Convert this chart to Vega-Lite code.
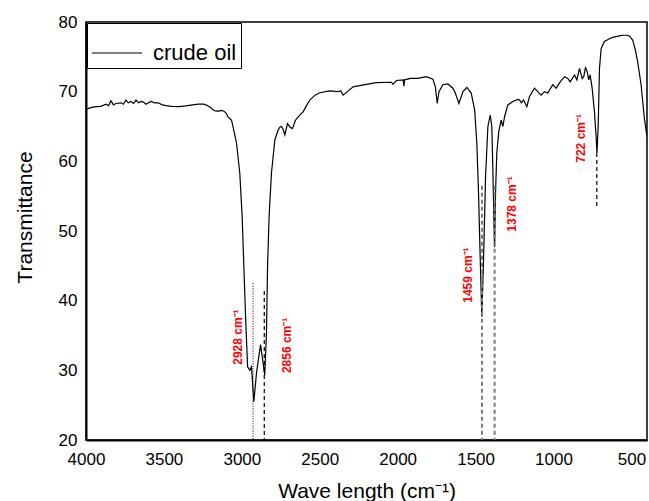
{
  "$schema": "https://vega.github.io/schema/vega-lite/v6.json",
  "width": 561,
  "height": 418,
  "autosize": "none",
  "padding": {"left": 86, "top": 22, "right": 2, "bottom": 61},
  "background": "white",
  "datasets": {
    "spectrum": [
      {"wn": 4000, "T": 67.5}, {"wn": 3968, "T": 67.7}, {"wn": 3936, "T": 67.85}, {"wn": 3904, "T": 67.9},
      {"wn": 3872, "T": 68.2}, {"wn": 3855, "T": 68.0}, {"wn": 3840, "T": 68.7}, {"wn": 3824, "T": 68.1},
      {"wn": 3808, "T": 68.3}, {"wn": 3776, "T": 68.4}, {"wn": 3760, "T": 68.2}, {"wn": 3744, "T": 68.8},
      {"wn": 3728, "T": 68.4}, {"wn": 3712, "T": 68.6}, {"wn": 3695, "T": 68.3}, {"wn": 3679, "T": 68.8},
      {"wn": 3663, "T": 68.4}, {"wn": 3647, "T": 68.6}, {"wn": 3631, "T": 68.5}, {"wn": 3615, "T": 68.2},
      {"wn": 3599, "T": 68.4}, {"wn": 3583, "T": 68.6}, {"wn": 3560, "T": 68.4}, {"wn": 3538, "T": 68.4},
      {"wn": 3510, "T": 68.1}, {"wn": 3487, "T": 68.0}, {"wn": 3450, "T": 67.9}, {"wn": 3404, "T": 67.85},
      {"wn": 3360, "T": 67.95}, {"wn": 3314, "T": 68.1}, {"wn": 3280, "T": 68.2}, {"wn": 3244, "T": 68.2},
      {"wn": 3220, "T": 68.0}, {"wn": 3199, "T": 67.7}, {"wn": 3179, "T": 67.3}, {"wn": 3160, "T": 67.2},
      {"wn": 3147, "T": 67.2}, {"wn": 3130, "T": 67.3}, {"wn": 3115, "T": 67.2}, {"wn": 3100, "T": 66.9},
      {"wn": 3090, "T": 66.4}, {"wn": 3066, "T": 65.9}, {"wn": 3050, "T": 64.3}, {"wn": 3034, "T": 62.6},
      {"wn": 3013, "T": 58.3}, {"wn": 2998, "T": 52.1}, {"wn": 2987, "T": 44.9}, {"wn": 2976, "T": 37.7},
      {"wn": 2963, "T": 30.5}, {"wn": 2949, "T": 30.0}, {"wn": 2938, "T": 30.5}, {"wn": 2923, "T": 25.5},
      {"wn": 2906, "T": 29.6}, {"wn": 2880, "T": 33.7}, {"wn": 2863, "T": 31.0}, {"wn": 2853, "T": 29.3},
      {"wn": 2842, "T": 35.3}, {"wn": 2835, "T": 44.9}, {"wn": 2825, "T": 52.1}, {"wn": 2810, "T": 58.3},
      {"wn": 2788, "T": 63.1}, {"wn": 2767, "T": 64.5}, {"wn": 2756, "T": 64.9}, {"wn": 2746, "T": 65.0},
      {"wn": 2735, "T": 64.6}, {"wn": 2724, "T": 63.8}, {"wn": 2707, "T": 65.4}, {"wn": 2690, "T": 64.9},
      {"wn": 2675, "T": 64.7}, {"wn": 2656, "T": 65.9}, {"wn": 2630, "T": 66.6}, {"wn": 2607, "T": 67.1},
      {"wn": 2585, "T": 68.0}, {"wn": 2564, "T": 68.8}, {"wn": 2530, "T": 69.5}, {"wn": 2500, "T": 69.85},
      {"wn": 2436, "T": 70.1}, {"wn": 2383, "T": 70.0}, {"wn": 2365, "T": 70.1}, {"wn": 2350, "T": 69.5},
      {"wn": 2329, "T": 69.9}, {"wn": 2286, "T": 70.7}, {"wn": 2201, "T": 71.05}, {"wn": 2137, "T": 71.3},
      {"wn": 2040, "T": 71.35}, {"wn": 2030, "T": 71.05}, {"wn": 2008, "T": 71.6}, {"wn": 1964, "T": 71.7},
      {"wn": 1960, "T": 70.8}, {"wn": 1956, "T": 71.7}, {"wn": 1917, "T": 71.9}, {"wn": 1870, "T": 71.9},
      {"wn": 1816, "T": 72.15}, {"wn": 1774, "T": 71.8}, {"wn": 1758, "T": 70.7}, {"wn": 1746, "T": 68.3},
      {"wn": 1735, "T": 70.0}, {"wn": 1710, "T": 71.0}, {"wn": 1678, "T": 71.1}, {"wn": 1646, "T": 70.5},
      {"wn": 1630, "T": 69.8}, {"wn": 1607, "T": 68.3}, {"wn": 1581, "T": 70.0}, {"wn": 1556, "T": 70.6},
      {"wn": 1528, "T": 69.8}, {"wn": 1506, "T": 67.4}, {"wn": 1492, "T": 62.6}, {"wn": 1481, "T": 55.4},
      {"wn": 1470, "T": 45.8}, {"wn": 1460, "T": 37.7}, {"wn": 1449, "T": 45.8}, {"wn": 1436, "T": 57.8},
      {"wn": 1421, "T": 65.0}, {"wn": 1406, "T": 66.65}, {"wn": 1396, "T": 65.0}, {"wn": 1389, "T": 58.8},
      {"wn": 1383, "T": 52.1}, {"wn": 1378, "T": 47.7}, {"wn": 1372, "T": 55.4}, {"wn": 1364, "T": 61.2},
      {"wn": 1351, "T": 64.3}, {"wn": 1336, "T": 65.9}, {"wn": 1325, "T": 65.0}, {"wn": 1314, "T": 66.4},
      {"wn": 1293, "T": 68.1}, {"wn": 1261, "T": 68.6}, {"wn": 1229, "T": 68.9}, {"wn": 1218, "T": 68.8},
      {"wn": 1207, "T": 68.4}, {"wn": 1192, "T": 68.8}, {"wn": 1171, "T": 67.85}, {"wn": 1154, "T": 69.3},
      {"wn": 1122, "T": 70.5}, {"wn": 1101, "T": 70.0}, {"wn": 1079, "T": 69.5}, {"wn": 1058, "T": 70.0},
      {"wn": 1037, "T": 69.8}, {"wn": 1005, "T": 71.0}, {"wn": 983, "T": 70.5}, {"wn": 957, "T": 71.4},
      {"wn": 929, "T": 72.15}, {"wn": 908, "T": 71.9}, {"wn": 893, "T": 71.4}, {"wn": 865, "T": 72.4},
      {"wn": 850, "T": 71.7}, {"wn": 833, "T": 73.35}, {"wn": 816, "T": 71.9}, {"wn": 806, "T": 72.15},
      {"wn": 795, "T": 73.45}, {"wn": 784, "T": 72.9}, {"wn": 774, "T": 71.7}, {"wn": 765, "T": 72.4},
      {"wn": 752, "T": 70.5}, {"wn": 737, "T": 67.1}, {"wn": 726, "T": 63.3}, {"wn": 721, "T": 61.2},
      {"wn": 713, "T": 65.2}, {"wn": 705, "T": 73.35}, {"wn": 694, "T": 76.2}, {"wn": 673, "T": 77.2},
      {"wn": 641, "T": 77.6}, {"wn": 620, "T": 77.8}, {"wn": 598, "T": 77.9}, {"wn": 577, "T": 78.0},
      {"wn": 556, "T": 78.1}, {"wn": 535, "T": 78.1}, {"wn": 513, "T": 78.0}, {"wn": 492, "T": 77.4},
      {"wn": 475, "T": 76.0}, {"wn": 460, "T": 74.3}, {"wn": 438, "T": 71.0}, {"wn": 417, "T": 66.2},
      {"wn": 400, "T": 63.5}
    ],
    "peaks": [
      {"peak": 2928, "top": 42.5, "bottom": 20, "labelX": 3026, "labelY": 30.8, "label": "2928 cm⁻¹"},
      {"peak": 2856, "top": 41.4, "bottom": 20, "labelX": 2712, "labelY": 29.6, "label": "2856 cm⁻¹"},
      {"peak": 1459, "top": 56.5, "bottom": 20, "labelX": 1551, "labelY": 39.7, "label": "1459 cm⁻¹"},
      {"peak": 1378, "top": 56.5, "bottom": 20, "labelX": 1269, "labelY": 49.9, "label": "1378 cm⁻¹"},
      {"peak": 722, "top": 61.2, "bottom": 53.4, "labelX": 821, "labelY": 59.8, "label": "722 cm⁻¹"}
    ]
  },
  "layer": [
    {
      "data": {"name": "spectrum"},
      "mark": {"type": "line", "strokeWidth": 1.2, "clip": true},
      "encoding": {
        "x": {
          "field": "wn", "type": "quantitative",
          "scale": {"domain": [400, 4000], "reverse": true, "nice": false, "zero": false},
          "title": "Wave length (cm⁻¹)",
          "axis": {"values": [4000, 3500, 3000, 2500, 2000, 1500, 1000, 500], "format": "d"}
        },
        "y": {
          "field": "T", "type": "quantitative",
          "scale": {"domain": [20, 80], "nice": false, "zero": false},
          "title": "Transmittance",
          "axis": {"values": [20, 30, 40, 50, 60, 70, 80], "format": "d"}
        },
        "color": {
          "datum": "crude oil",
          "type": "nominal",
          "scale": {"range": ["black"]},
          "legend": {
            "title": null,
            "orient": "top-left",
            "offset": 1,
            "symbolType": "stroke",
            "symbolSize": 2500,
            "symbolStrokeWidth": 1.2,
            "symbolStrokeColor": "black",
            "labelFontSize": 22,
            "labelFont": "Liberation Sans",
            "labelColor": "black",
            "labelOffset": 10,
            "padding": 4,
            "strokeColor": "black",
            "fillColor": "white"
          }
        }
      }
    },
    {
      "data": {"name": "peaks"},
      "transform": [{"filter": "datum.peak == 2928"}],
      "mark": {"type": "rule", "color": "black", "strokeWidth": 1, "strokeDash": [1, 1.5]},
      "encoding": {
        "x": {"field": "peak", "type": "quantitative", "title": "Wave length (cm⁻¹)"},
        "y": {"field": "top", "type": "quantitative", "title": "Transmittance"},
        "y2": {"field": "bottom"}
      }
    },
    {
      "data": {"name": "peaks"},
      "transform": [{"filter": "datum.peak == 2856 || datum.peak == 722"}],
      "mark": {"type": "rule", "color": "black", "strokeWidth": 1.2, "strokeDash": [4, 3]},
      "encoding": {
        "x": {"field": "peak", "type": "quantitative", "title": "Wave length (cm⁻¹)"},
        "y": {"field": "top", "type": "quantitative", "title": "Transmittance"},
        "y2": {"field": "bottom"}
      }
    },
    {
      "data": {"name": "peaks"},
      "transform": [{"filter": "datum.peak == 1459 || datum.peak == 1378"}],
      "mark": {"type": "rule", "color": "#7a7a7a", "strokeWidth": 2, "strokeDash": [4, 3]},
      "encoding": {
        "x": {"field": "peak", "type": "quantitative", "title": "Wave length (cm⁻¹)"},
        "y": {"field": "top", "type": "quantitative", "title": "Transmittance"},
        "y2": {"field": "bottom"}
      }
    },
    {
      "data": {"name": "peaks"},
      "mark": {"type": "text", "angle": 270, "align": "left", "baseline": "middle", "color": "#ff0000", "font": "Liberation Sans", "fontSize": 12, "fontWeight": "bold"},
      "encoding": {
        "x": {"field": "labelX", "type": "quantitative", "title": "Wave length (cm⁻¹)"},
        "y": {"field": "labelY", "type": "quantitative", "title": "Transmittance"},
        "text": {"field": "label"}
      }
    }
  ],
  "config": {
    "view": {"stroke": "black", "strokeWidth": 1.5},
    "axis": {
      "grid": false,
      "ticks": false,
      "domainColor": "black",
      "domainWidth": 2,
      "labelFont": "Liberation Sans",
      "labelFontSize": 17,
      "labelColor": "black",
      "titleFont": "Liberation Sans",
      "titleFontSize": 21,
      "titleFontWeight": "normal",
      "titleColor": "black"
    },
    "axisX": {"labelPadding": 11, "titlePadding": 13, "labelFlush": false},
    "axisY": {"labelPadding": 9, "titlePadding": 23, "titleY": 195, "labelFlush": false}
  }
}
